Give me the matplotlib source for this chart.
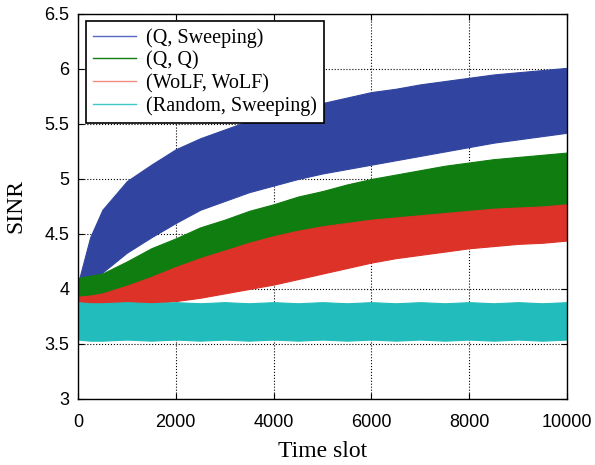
import matplotlib.pyplot as plt
from matplotlib.lines import Line2D

t = [0, 250, 500, 1000, 1500, 2000, 2500, 3000, 3500, 4000, 4500, 5000,
     5500, 6000, 6500, 7000, 7500, 8000, 8500, 9000, 9500, 10000]

# (Q, Sweeping) - upper / lower edge of the noisy band
q_sweep_hi = [4.05, 4.47, 4.72, 4.98, 5.13, 5.27, 5.37, 5.45, 5.53, 5.59, 5.65, 5.69,
              5.74, 5.79, 5.82, 5.86, 5.89, 5.92, 5.95, 5.97, 5.99, 6.01]
q_sweep_lo = [3.90, 4.02, 4.15, 4.33, 4.47, 4.60, 4.72, 4.80, 4.88, 4.94, 5.00, 5.05,
              5.09, 5.13, 5.17, 5.21, 5.25, 5.29, 5.33, 5.36, 5.39, 5.42]

# (Q, Q)
qq_hi = [4.10, 4.12, 4.14, 4.25, 4.37, 4.46, 4.56, 4.63, 4.71, 4.77, 4.84, 4.89,
         4.95, 5.00, 5.04, 5.08, 5.12, 5.15, 5.18, 5.20, 5.22, 5.24]
qq_lo = [3.85, 3.87, 3.90, 3.95, 4.02, 4.08, 4.15, 4.20, 4.26, 4.32, 4.37, 4.42,
         4.46, 4.50, 4.54, 4.57, 4.60, 4.63, 4.65, 4.68, 4.70, 4.72]

# (WoLF, WoLF)
wolf_hi = [3.93, 3.94, 3.96, 4.03, 4.11, 4.20, 4.28, 4.35, 4.42, 4.48, 4.53, 4.57,
           4.60, 4.63, 4.65, 4.67, 4.69, 4.71, 4.73, 4.74, 4.75, 4.77]
wolf_lo = [3.80, 3.81, 3.82, 3.85, 3.87, 3.89, 3.92, 3.96, 4.00, 4.04, 4.09, 4.14,
           4.19, 4.24, 4.28, 4.31, 4.34, 4.37, 4.39, 4.41, 4.42, 4.44]

# (Random, Sweeping)
rand_hi = [3.88, 3.87, 3.87, 3.88, 3.87, 3.88, 3.87, 3.88, 3.87, 3.88, 3.87, 3.88,
           3.87, 3.88, 3.87, 3.88, 3.87, 3.88, 3.87, 3.88, 3.87, 3.88]
rand_lo = [3.54, 3.53, 3.53, 3.54, 3.53, 3.54, 3.53, 3.54, 3.53, 3.54, 3.53, 3.54,
           3.53, 3.54, 3.53, 3.54, 3.53, 3.54, 3.53, 3.54, 3.53, 3.54]

labels = ['(Q, Sweeping)', '(Q, Q)', '(WoLF, WoLF)', '(Random, Sweeping)']
colors = ['#3145a0', '#107d10', '#dc3228', '#22bcbc']
legend_colors = ['#5566c4', '#107d10', '#f08a80', '#40c8c8']

fig = plt.figure(figsize=(5.95, 4.65), dpi=100)
ax = fig.add_axes([0.131, 0.142, 0.822, 0.828])

bands = [(q_sweep_lo, q_sweep_hi), (qq_lo, qq_hi), (wolf_lo, wolf_hi), (rand_lo, rand_hi)]
for (lo, hi), c in zip(bands, colors):
    ax.fill_between(t, lo, hi, color=c, lw=0.8, edgecolor=c, zorder=2)

ax.set_xlim(0, 10000)
ax.set_ylim(3, 6.5)
ax.set_xticks(range(0, 10001, 2000))
ax.set_yticks([3, 3.5, 4, 4.5, 5, 5.5, 6, 6.5])
ax.set_yticklabels(['3', '3.5', '4', '4.5', '5', '5.5', '6', '6.5'])
ax.tick_params(direction='in', top=True, right=True, labelsize=13, length=4)
ax.tick_params(axis='x', pad=11)
ax.tick_params(axis='y', pad=6)
for lab in ax.get_xticklabels() + ax.get_yticklabels():
    lab.set_fontfamily('Liberation Sans')
ax.grid(True, linestyle=':', color='black', lw=0.8, zorder=0)
ax.set_axisbelow(True)
for s in ax.spines.values():
    s.set_linewidth(1.0)

ax.set_xlabel('Time slot', family='Liberation Serif', fontsize=17, labelpad=7)
ax.set_ylabel('SINR', family='Liberation Serif', fontsize=17, labelpad=13)

handles = [Line2D([], [], color=c, lw=1.0) for c in legend_colors]
leg = ax.legend(handles, labels, loc='upper left', bbox_to_anchor=(0.016, 0.982),
                prop={'family': 'Liberation Serif', 'size': 14.5}, handlelength=2.15,
                fancybox=False, framealpha=1, edgecolor='black',
                borderpad=0.35, labelspacing=0.17, handletextpad=0.5, borderaxespad=0)
leg.get_frame().set_linewidth(1.2)

fig.savefig('out.png', dpi=100)
